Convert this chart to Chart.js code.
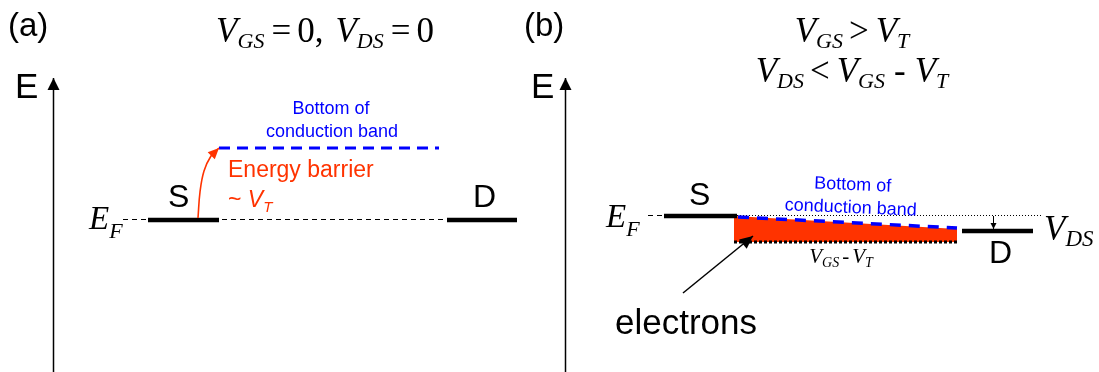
<!DOCTYPE html>
<html>
<head>
<meta charset="utf-8">
<script src="https://cdn.jsdelivr.net/npm/chart.js@4.4.0/dist/chart.umd.min.js"></script>
<style>
  html, body { margin: 0; padding: 0; background: #fff; }
  #wrap { width: 1099px; height: 372px; }
</style>
</head>
<body>
<div id="wrap"><canvas id="diagram" width="1099" height="372"></canvas></div>
<script>
// positions along the device (x) and energy (y, upwards) in diagram units

// (a) V_GS = 0, V_DS = 0 : flat bands, barrier to the conduction band
const aAxis = [[53.5, 0], [53.5, 294]];
const aFermi = [[123, 152.5], [447, 152.5]];
const aSource = [[148, 152], [219, 152]];
const aDrain = [[447, 152], [517, 152]];
const aBand = [[219, 224], [439, 224]];
const aBarrier = [[198, 154], [200, 180], [204, 201], [211, 216], [219, 224]];

// (b) V_GS > V_T, V_DS < V_GS - V_T : band pulled below E_F, tilted by V_DS
const bAxis = [[565.5, 0], [565.5, 294]];
const bFermi = [[648, 156.5], [664, 156.5]];
const bSource = [[664, 156], [737, 156]];
const bDrain = [[962, 141], [1033, 141]];
const bFermiRef = [[737, 156.5], [1042, 156.5]];
const bBand = [[738, 155], [957, 144]];
const bChannelTop = [[734, 156], [957, 143]];
const bChannelBottom = [[734, 130], [957, 130]];
const bVds = [[993.5, 156], [993.5, 143]];
const bElectrons = [[683, 79], [753, 136]];

const RED = "#ff3300";
const BLUE = "#0000ff";

const pts = arr => arr.map(([x, y]) => ({ x, y }));

const line = (data, extra) => Object.assign({
  data: pts(data),
  showLine: true,
  pointRadius: 0,
  borderColor: "#000",
  borderWidth: 1,
  fill: false,
  tension: 0,
}, extra);

const serifI = s => `italic ${s}px "Liberation Serif", "Times New Roman", serif`;
const serif = s => `${s}px "Liberation Serif", "Times New Roman", serif`;
const sans = s => `${s}px "Liberation Sans", Arial, sans-serif`;
const sansI = s => `italic ${s}px "Liberation Sans", Arial, sans-serif`;

// draws a run of text pieces (subscripts etc) from one start point
function rich(ctx, parts, x, y, align, color) {
  let w = 0;
  parts.forEach(p => {
    ctx.font = p.f;
    p.w = ctx.measureText(p.t).width + (p.g || 0);
    w += p.w;
  });
  let cx = align === "center" ? x - w / 2 : x;
  parts.forEach(p => {
    ctx.font = p.f;
    ctx.fillStyle = p.c || color || "#000";
    ctx.fillText(p.t, cx, y + (p.dy || 0));
    cx += p.w;
  });
}

const arrowHeads = {
  id: "arrowHeads",
  afterDatasetsDraw(chart) {
    const ctx = chart.ctx;
    chart.data.datasets.forEach((ds, i) => {
      if (!ds.head) return;
      const el = chart.getDatasetMeta(i).data;
      const a = el[el.length - 2], b = el[el.length - 1];
      const ang = Math.atan2(b.y - a.y, b.x - a.x);
      const [len, half] = ds.head;
      ctx.save();
      ctx.translate(b.x, b.y);
      ctx.rotate(ang);
      ctx.beginPath();
      ctx.moveTo(0, 0);
      ctx.lineTo(-len, -half);
      ctx.lineTo(-len, half);
      ctx.closePath();
      ctx.fillStyle = ds.borderColor;
      ctx.fill();
      ctx.restore();
    });
  }
};

const labels = {
  id: "labels",
  afterDatasetsDraw(chart) {
    const ctx = chart.ctx;
    ctx.save();
    ctx.textBaseline = "alphabetic";

    // panel tags and energy axis names
    ctx.fillStyle = "#000";
    ctx.font = sans(33);
    ctx.fillText("(a)", 8, 36);
    ctx.fillText("(b)", 524, 36);
    ctx.font = sans(35);
    ctx.fillText("E", 15, 98);
    ctx.fillText("E", 531, 98);

    // (a) title
    rich(ctx, [
      { t: "V", f: serifI(35) },
      { t: "GS", f: serifI(22), dy: 6, g: 7 },
      { t: "=", f: serif(35), g: 6 },
      { t: "0,", f: serif(35), g: 12 },
      { t: "V", f: serifI(35) },
      { t: "DS", f: serifI(22), dy: 6, g: 7 },
      { t: "=", f: serif(35), g: 6 },
      { t: "0", f: serif(35) },
    ], 325, 42, "center");

    // (b) title
    rich(ctx, [
      { t: "V", f: serifI(35) },
      { t: "GS", f: serifI(22), dy: 6, g: 6 },
      { t: ">", f: serif(35), g: 7 },
      { t: "V", f: serifI(35) },
      { t: "T", f: serifI(22), dy: 6 },
    ], 852, 42, "center");
    rich(ctx, [
      { t: "V", f: serifI(35) },
      { t: "DS", f: serifI(22), dy: 6, g: 6 },
      { t: "<", f: serif(35), g: 7 },
      { t: "V", f: serifI(35) },
      { t: "GS", f: serifI(22), dy: 6, g: 9 },
      { t: "-", f: serif(35), g: 9 },
      { t: "V", f: serifI(35) },
      { t: "T", f: serifI(22), dy: 6 },
    ], 852, 82, "center");

    // S / D contacts
    ctx.font = sans(32);
    ctx.fillStyle = "#000";
    ctx.fillText("S", 168, 207);
    ctx.fillText("D", 473, 207);
    ctx.fillText("S", 689, 205);
    ctx.fillText("D", 989, 263);

    // E_F
    rich(ctx, [{ t: "E", f: serifI(33) }, { t: "F", f: serifI(22), dy: 9 }], 89, 229);
    rich(ctx, [{ t: "E", f: serifI(33) }, { t: "F", f: serifI(22), dy: 9 }], 606, 227);

    // conduction band labels
    ctx.fillStyle = BLUE;
    ctx.font = sans(18);
    ctx.textAlign = "center";
    ctx.fillText("Bottom of", 331, 114);
    ctx.fillText("conduction band", 332, 137);
    ctx.save();
    ctx.translate(851, 202);
    ctx.rotate(2.4 * Math.PI / 180);
    ctx.fillText("Bottom of", 1, -12);
    ctx.fillText("conduction band", 0, 11);
    ctx.restore();
    ctx.textAlign = "left";

    // barrier text
    ctx.fillStyle = RED;
    ctx.font = sans(23);
    ctx.fillText("Energy barrier", 228, 177);
    rich(ctx, [
      { t: "~ ", f: sans(23) },
      { t: "V", f: sansI(23) },
      { t: "T", f: sansI(15), dy: 5 },
    ], 228, 207, "left", RED);

    // V_DS and V_GS - V_T
    rich(ctx, [{ t: "V", f: serifI(35) }, { t: "DS", f: serifI(23), dy: 6 }], 1044, 240);
    rich(ctx, [
      { t: "V", f: serifI(21) },
      { t: "GS", f: serifI(14), dy: 4, g: 3 },
      { t: "-", f: serif(21), g: 3 },
      { t: "V", f: serifI(21) },
      { t: "T", f: serifI(14), dy: 4 },
    ], 841, 263, "center");

    ctx.fillStyle = "#000";
    ctx.font = sans(35);
    ctx.fillText("electrons", 615, 334);
    ctx.restore();
  }
};

new Chart(document.getElementById("diagram"), {
  type: "scatter",
  data: {
    datasets: [
      line(aAxis, { borderWidth: 1.5, head: [12, 6] }),
      line(bAxis, { borderWidth: 1.5, head: [12, 6] }),
      line(aBarrier, { borderColor: RED, borderWidth: 1.6, tension: 0.4, head: [11, 5] }),
      line(aSource, { borderWidth: 4.5 }),
      line(aDrain, { borderWidth: 4.5 }),
      line(aBand, { borderColor: BLUE, borderWidth: 3, borderDash: [11, 7] }),
      line(aFermi, { borderWidth: 1, borderDash: [5, 4], order: 1 }),
      line(bSource, { borderWidth: 4.5 }),
      line(bDrain, { borderWidth: 4.5 }),
      line(bFermi, { borderWidth: 1, borderDash: [5, 4] }),
      line(bBand, { borderColor: BLUE, borderWidth: 3.5, borderDash: [11, 8] }),
      line(bChannelBottom, { borderWidth: 3, borderDash: [3, 2] }),
      line(bFermiRef, { borderWidth: 1, borderDash: [1, 2], order: 1 }),
      line(bVds, { borderWidth: 1, head: [6, 3] }),
      line(bElectrons, { borderWidth: 1.5, head: [13, 6] }),
      line(bChannelTop, { borderWidth: 0, borderColor: RED, backgroundColor: RED, fill: { value: 130 }, order: 2 }),
    ],
  },
  options: {
    responsive: false,
    animation: false,
    events: [],
    layout: { padding: 0 },
    plugins: { legend: { display: false }, tooltip: { enabled: false } },
    scales: {
      x: { type: "linear", min: 0, max: 1099, display: false },
      y: { type: "linear", min: 0, max: 372, display: false },
    },
  },
  plugins: [arrowHeads, labels],
});
</script>
</body>
</html>
